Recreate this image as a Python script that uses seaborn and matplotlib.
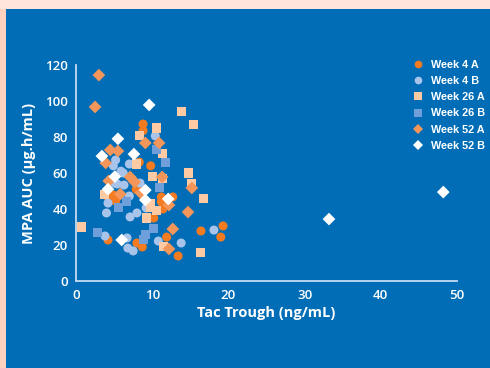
import matplotlib
matplotlib.use("Agg")
import matplotlib.pyplot as plt
from matplotlib.patches import Rectangle
import seaborn as sns
import pandas as pd

# Tacrolimus trough vs. MPA AUC, by study visit
groups = ["Week 4 A", "Week 4 B", "Week 26 A", "Week 26 B", "Week 52 A", "Week 52 B"]

wk4a_x = [8.8, 8.8, 8.3, 9.8, 7.9, 4.9, 5.2, 4.2, 11.2, 12.7, 11.4, 10.2, 4.2, 8.0, 8.7,
          11.9, 13.4, 16.4, 19.3, 19.0, 11.2]
wk4a_y = [87.2, 83.5, 66.0, 64.0, 51.0, 47.8, 44.4, 46.7, 46.7, 46.7, 40.0, 35.0, 22.8, 21.1, 18.9,
          24.4, 13.9, 27.8, 30.6, 24.4, 44.0]

wk4b_x = [10.4, 5.2, 4.9, 7.0, 5.9, 6.2, 5.4, 6.3, 8.4, 7.0, 4.2, 4.0, 7.1, 8.0, 9.2,
          3.8, 6.7, 6.8, 7.5, 10.8, 13.8, 18.1, 5.1]
wk4b_y = [80.6, 67.2, 64.0, 65.0, 61.0, 60.0, 53.9, 53.3, 54.4, 47.2, 43.3, 37.8, 35.6, 37.8, 40.6,
          25.0, 23.9, 18.3, 16.7, 22.2, 21.1, 28.3, 54.4]

wk26a_x = [13.9, 15.4, 10.5, 8.3, 11.3, 7.9, 14.8, 10.0, 11.4, 15.2, 16.7, 3.7, 9.8, 9.8,
           10.6, 9.3, 0.7, 11.5, 16.4]
wk26a_y = [93.9, 86.7, 85.0, 81.0, 70.6, 65.0, 60.0, 58.3, 57.2, 54.4, 45.6, 48.3, 43.3, 41.1,
           38.9, 35.0, 30.0, 18.9, 15.6]

wk26b_x = [10.5, 11.7, 10.9, 6.6, 5.6, 2.8, 9.1, 8.8, 10.2]
wk26b_y = [72.8, 66.1, 52.2, 43.9, 41.1, 27.2, 26.1, 22.8, 28.9]

wk52a_x = [3.0, 2.5, 9.1, 10.9, 4.5, 5.5, 3.9, 7.1, 7.7, 4.3, 5.8, 8.5, 11.3, 15.2, 12.2,
           14.7, 12.7, 12.2]
wk52a_y = [114.4, 96.7, 76.7, 76.7, 72.8, 72.2, 65.6, 57.8, 55.0, 55.6, 48.3, 48.9, 57.8, 51.7,
           42.2, 38.3, 28.9, 17.8]

wk52b_x = [9.6, 5.5, 3.4, 7.6, 5.1, 4.2, 9.1, 9.1, 6.0, 12.1, 33.2, 48.2]
wk52b_y = [97.8, 79.0, 69.4, 70.5, 58.0, 51.0, 50.5, 45.0, 22.8, 45.6, 34.4, 49.4]

xs = [wk4a_x, wk4b_x, wk26a_x, wk26b_x, wk52a_x, wk52b_x]
ys = [wk4a_y, wk4b_y, wk26a_y, wk26b_y, wk52a_y, wk52b_y]

df = pd.concat(
    [pd.DataFrame({"tac": x, "mpa": y, "visit": g}) for g, x, y in zip(groups, xs, ys)],
    ignore_index=True,
)

colors = {
    "Week 4 A": "#f47b20",
    "Week 4 B": "#a9c4ea",
    "Week 26 A": "#fdcaa4",
    "Week 26 B": "#6e9fdb",
    "Week 52 A": "#f4965a",
    "Week 52 B": "#ffffff",
}
markers = {
    "Week 4 A": "o",
    "Week 4 B": "o",
    "Week 26 A": "s",
    "Week 26 B": "s",
    "Week 52 A": "D",
    "Week 52 B": "D",
}

sns.set_theme(style="white")
plt.rcParams["font.family"] = ["Liberation Sans", "DejaVu Sans"]

blue = "#016db6"
axis_col = "#c4dbf1"

fig = plt.figure(figsize=(4.9, 3.68), dpi=100, facecolor="#ffe6dc")

# backdrop: peach page edge with the blue panel on top
bg = fig.add_axes([0, 0, 1, 1], zorder=-5)
bg.set_axis_off()
bg.set_xlim(0, 1)
bg.set_ylim(0, 1)
bg.add_patch(Rectangle((0, 0), 6 / 490, 1 - 9 / 368, facecolor="#ffd2c0", edgecolor="none"))
bg.add_patch(Rectangle((6 / 490, 0), 1, 1 - 9 / 368, facecolor=blue, edgecolor="none"))

ax = fig.add_axes([76 / 490, 1 - 281 / 368, (457 - 76) / 490, (281 - 65) / 368], zorder=1)
ax.set_facecolor("none")

sns.scatterplot(
    data=df, x="tac", y="mpa", hue="visit", style="visit",
    hue_order=groups, style_order=groups,
    palette=colors, markers=markers, s=42, linewidth=0, alpha=1,
    ax=ax, clip_on=False, zorder=3,
)

ax.set_xlim(0, 50)
ax.set_ylim(0, 120)
ax.set_xticks(range(0, 51, 10))
ax.set_yticks(range(0, 121, 20))

for side in ["top", "right"]:
    ax.spines[side].set_visible(False)
for side in ["left", "bottom"]:
    ax.spines[side].set_color(axis_col)
    ax.spines[side].set_linewidth(1.3)

ax.tick_params(axis="both", colors=axis_col, direction="out", length=4, width=1.2,
               labelcolor="white", labelsize=9.5, pad=2)
for lbl in ax.get_xticklabels() + ax.get_yticklabels():
    lbl.set_fontfamily(["Open Sans", "DejaVu Sans"])
    lbl.set_fontweight("semibold")

ax.set_xlabel("Tac Trough (ng/mL)", color="white", fontsize=10.5, fontweight="bold",
              family=["Open Sans", "DejaVu Sans"], labelpad=3)
ax.set_ylabel("MPA AUC (µg.h/mL)", color="white", fontsize=10.5, fontweight="bold",
              family=["Open Sans", "DejaVu Sans"], labelpad=6)

leg = ax.legend(
    loc="upper left", bbox_to_anchor=(0.868, 1.025), frameon=False,
    handletextpad=0.2, labelspacing=0.58, borderaxespad=0,
    borderpad=0, markerscale=0.85,
    prop={"family": ["Liberation Sans", "DejaVu Sans"], "weight": "bold", "size": 7.8},
)
for t in leg.get_texts():
    t.set_color("white")

fig.savefig("out.png", dpi=100, facecolor=fig.get_facecolor())
